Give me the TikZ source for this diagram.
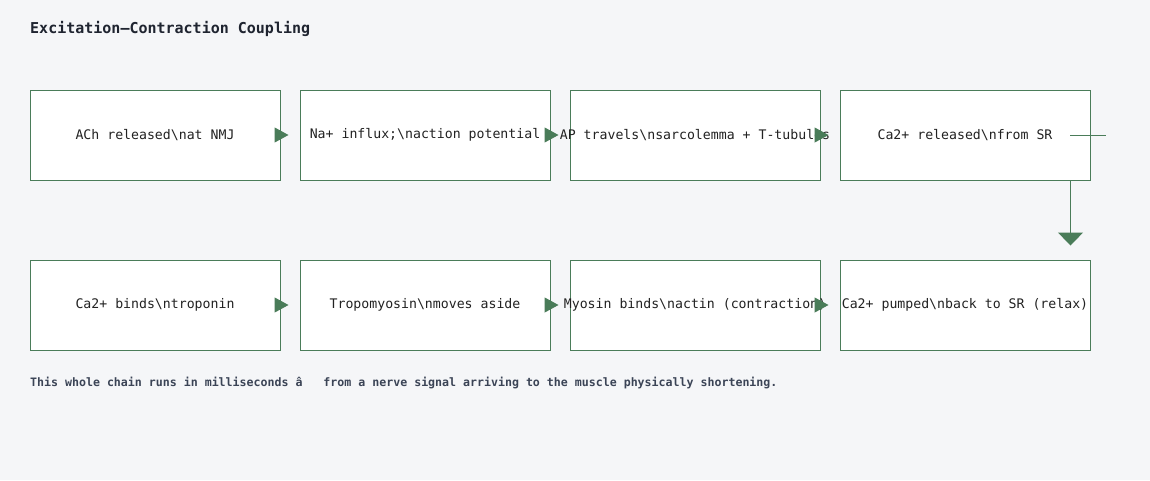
\documentclass[tikz,border=0pt]{standalone}
\usepackage{fontspec}
\setmonofont{DejaVu Sans Mono}
\usepackage{tikz}
\usetikzlibrary{arrows.meta}
\usetikzlibrary{calc}
\definecolor{leaf}{HTML}{4A7C59}
\definecolor{paper}{HTML}{F5F6F8}
\definecolor{ink}{HTML}{222222}
\definecolor{head}{HTML}{1F2430}
\definecolor{note}{HTML}{3B4456}
\newcommand{\cell}[1]{\raisebox{-1.6pt}{\makebox[0pt]{#1}}}
\tikzset{stage/.style = {draw = leaf, fill = white, line width = 1pt,
                         minimum width = 250, minimum height = 90, inner sep = 0,
                         text = ink, font = \ttfamily\fontsize{13.2}{16}\selectfont}}
\tikzset{flow/.style = {draw = leaf, line width = 1pt, shorten > = 11pt,
                        -{Triangle[length = 14pt, width = 15pt]}}}
\tikzset{drop/.style = {draw = leaf, line width = 1pt, shorten > = 14pt,
                        -{Triangle[length = 13pt, width = 25pt]}}}
\tikzset{link/.style = {draw = leaf, line width = 1pt}}

\begin{document}
\begin{tikzpicture}[x = 1pt, y = -1pt]
      \useasboundingbox [fill = paper] (0, 0) rectangle (1150, 480);

      \node [anchor = base west, inner sep = 0, text = head, font = \ttfamily\bfseries\fontsize{15}{18}\selectfont]
            (title) at (30, 33) {Excitation—Contraction Coupling};

      % top row
      \node [stage] (ach)  at (155, 135) {\cell{ACh released\textbackslash nat NMJ}};
      \node [stage] (na)   at (425, 135) {\cell{Na+ influx;\textbackslash naction potential}};
      \node [stage] (ap)   at (695, 135) {\cell{AP travels\textbackslash nsarcolemma + T-tubules}};
      \node [stage] (rel)  at (965, 135) {\cell{Ca2+ released\textbackslash nfrom SR}};

      % bottom row
      \node [stage] (bind) at (155, 305) {\cell{Ca2+ binds\textbackslash ntroponin}};
      \node [stage] (trop) at (425, 305) {\cell{Tropomyosin\textbackslash nmoves aside}};
      \node [stage] (myo)  at (695, 305) {\cell{Myosin binds\textbackslash nactin (contraction)}};
      \node [stage] (pump) at (965, 305) {\cell{Ca2+ pumped\textbackslash nback to SR (relax)}};

      \draw [flow] (ach) -- (na);
      \draw [flow] (na) -- (ap);
      \draw [flow] (ap) -- (rel);
      \draw [flow] (bind) -- (trop);
      \draw [flow] (trop) -- (myo);
      \draw [flow] (myo) -- (pump);

      \coordinate (relout)  at (1070, 135);
      \coordinate (relside) at (1106, 135);
      \draw [link] (relout) -- (relside);
      \draw [drop] ($(rel.south east) + (-20, 0)$) -- ($(pump.north east) + (-20, 0)$);

      \node [anchor = base west, inner sep = 0, text = note, font = \ttfamily\bfseries\fontsize{11.6}{14}\selectfont]
            (foot) at (30, 386.5) {This whole chain runs in milliseconds â~~~from a nerve signal arriving to the muscle physically shortening.};

    \end{tikzpicture}
\end{document}
